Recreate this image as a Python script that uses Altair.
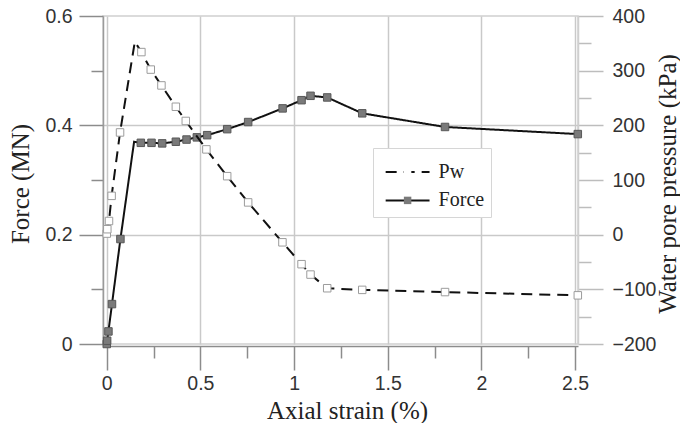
import altair as alt
import pandas as pd

# ---- data ----
force_strain = [0.0, 0.002, 0.009, 0.028, 0.073, 0.146, 0.182, 0.239, 0.296, 0.369, 0.426,
                0.481, 0.536, 0.643, 0.755, 0.939, 1.040, 1.088, 1.177, 1.364, 1.806, 2.515]
force_mn = [0.000, 0.006, 0.023, 0.073, 0.192, 0.370, 0.368, 0.368, 0.367, 0.370, 0.374,
            0.378, 0.382, 0.393, 0.406, 0.431, 0.446, 0.454, 0.451, 0.422, 0.397, 0.384]
force_marked = [True, True, True, True, True, False, True, True, True, True, True,
                True, True, True, True, True, True, True, True, True, True, True]

pw_strain = [0.0, 0.003, 0.012, 0.026, 0.071, 0.150, 0.185, 0.235, 0.292, 0.369, 0.422,
             0.532, 0.643, 0.755, 0.938, 1.040, 1.088, 1.177, 1.364, 1.806, 2.515]
pw_kpa = [2, 10, 25, 71, 187, 353, 334, 302, 273, 234, 208,
          156, 107, 59, -14, -54, -73, -98, -101, -105, -111]
pw_marked = [True, True, True, True, True, False, True, True, True, True, True,
             True, True, True, True, True, True, True, True, True, True]

series_order = ["Pw", "Force"]
x_ticks = [0, 0.25, 0.5, 0.75, 1, 1.25, 1.5, 1.75, 2, 2.25, 2.5]
force_ticks = [0, 0.1, 0.2, 0.3, 0.4, 0.5, 0.6]
pw_ticks = [-200, -150, -100, -50, 0, 50, 100, 150, 200, 250, 300, 350, 400]

force_df = pd.DataFrame({"strain": force_strain, "value": force_mn,
                         "Series": "Force", "Marker": "Force", "marked": force_marked})
pw_df = pd.DataFrame({"strain": pw_strain, "value": pw_kpa,
                      "Series": "Pw", "Marker": "Pw", "marked": pw_marked})

AX_GREY = "#8c8c8c"
GRID = "#c9c9c9"
LABEL_FONT = "Liberation Sans"
TITLE_FONT = "Liberation Serif"
TITLE_SIZE = 25

x_major = "datum.value % 0.5 === 0"
x_enc = alt.X(
    "strain:Q",
    scale=alt.Scale(domain=[-0.02, 2.516], nice=False, zero=False),
    axis=alt.Axis(
        values=x_ticks, offset=2,
        labelExpr=f"{x_major} ? format(datum.value, '~g') : ''",
        tickSize={"condition": {"test": x_major, "value": 24}, "value": 12},
        grid=True, gridColor=GRID, gridWidth=1.5,
        gridOpacity={"condition": {"test": x_major, "value": 1}, "value": 0},
        domainColor=AX_GREY, domainWidth=1.5, tickColor=AX_GREY, tickWidth=1.5,
        labelFont=LABEL_FONT, labelFontSize=19.5, labelColor="#333", labelPadding=4,
        labelFlush=False, labelOverlap=False,
        title="Axial strain (%)", titleFont=TITLE_FONT, titleFontSize=TITLE_SIZE,
        titleFontWeight="normal", titleColor="#222",
        titleX=244, titleY=72, titleBaseline="alphabetic", titleAlign="center",
    ),
)

f_major = "round(datum.value * 10) % 2 === 0"
force_y = alt.Y(
    "value:Q",
    scale=alt.Scale(domain=[0, 0.6], nice=False, zero=False),
    axis=alt.Axis(
        orient="left", values=force_ticks,
        labelExpr=f"{f_major} ? format(datum.value, '~g') : ''",
        tickSize={"condition": {"test": f_major, "value": 24}, "value": 12},
        grid=True, gridColor=GRID, gridWidth=1.5,
        gridOpacity={"condition": {"test": f"{f_major} && datum.value > 0.05 && datum.value < 0.55", "value": 1}, "value": 0},
        domainColor="#9a9a9a", domainWidth=1.5, tickColor=AX_GREY, tickWidth=1.5,
        labelFont=LABEL_FONT, labelFontSize=19.5, labelColor="#333", labelPadding=7,
        labelFlush=False, labelOverlap=False,
        title="Force (MN)", titleFont=TITLE_FONT, titleFontSize=TITLE_SIZE,
        titleFontWeight="normal", titleColor="#222", titleAngle=270,
        titleX=-75, titleY=167.5, titleBaseline="alphabetic", titleAlign="center",
    ),
)

p_major = "datum.value % 100 === 0"
pw_y = alt.Y(
    "value:Q",
    scale=alt.Scale(domain=[-200, 400], nice=False, zero=False),
    axis=alt.Axis(
        orient="right", values=pw_ticks,
        labelExpr=f"{p_major} ? format(datum.value, '~g') : ''",
        tickSize={"condition": {"test": p_major, "value": 25}, "value": 13},
        grid=False,
        domainColor="#cfcfcf", domainWidth=1.5, tickColor="#bdbdbd", tickWidth=1.5,
        labelFont=LABEL_FONT, labelFontSize=19.5, labelColor="#333", labelPadding=9,
        labelFlush=False, labelOverlap=False,
        title="Water pore pressure (kPa)", titleFont=TITLE_FONT, titleFontSize=TITLE_SIZE,
        titleFontWeight="normal", titleColor="#222", titleAngle=270,
        titleX=97, titleY=167.5, titleBaseline="alphabetic", titleAlign="center",
    ),
)

# legend: two overlaid legends (line symbols below, square symbols on top)
LEG_X, LEG_Y = 270, 132
LEG_SYM_SIZE = 77          # sqrt -> ~8.8 px layout box
LEG_COMMON = dict(
    orient="none", legendX=LEG_X, legendY=LEG_Y,
    title=" ", titleFontSize=8, titlePadding=0,
    padding=6, rowPadding=8.4, symbolSize=LEG_SYM_SIZE,
    symbolOffset=18.6, labelOffset=21,
    labelFont=TITLE_FONT, labelFontSize=20, labelColor="#222",
)
dash_enc = alt.StrokeDash(
    "Series:N",
    scale=alt.Scale(domain=series_order, range=[[11, 7], [1, 0]]),
    legend=alt.Legend(
        symbolType="M-5,0H5", symbolStrokeWidth=2, symbolStrokeColor="#111",
        symbolFillColor="transparent",
        fillColor="white", strokeColor="#d6d6d6", zindex=1, **LEG_COMMON,
    ),
)
fill_enc = alt.Fill(
    "Marker:N", sort=series_order,
    scale=alt.Scale(range=["#ffffff", "#7a7a7a"]),
    legend=alt.Legend(
        symbolType="M-0.85,-0.85H0.85V0.85H-0.85Z", symbolStrokeWidth=1,
        symbolOpacity=1, labelOpacity=0, zindex=2, **LEG_COMMON,
    ),
)
stroke_enc = alt.Stroke(
    "Marker:N", sort=series_order,
    scale=alt.Scale(range=["#9c9c9c", "#585858"]),
)


def series_layer(df, y_enc):
    base = alt.Chart(df)
    line = base.mark_line(color="#111", strokeWidth=2).encode(
        x=x_enc, y=y_enc, strokeDash=dash_enc)
    pts = base.mark_point(shape="square", filled=True, size=56, strokeWidth=1, opacity=1).encode(
        x=x_enc, y=y_enc, fill=fill_enc, stroke=stroke_enc
    ).transform_filter("datum.marked")
    return alt.layer(line, pts)


chart = alt.layer(
    series_layer(force_df, force_y),
    series_layer(pw_df, pw_y),
).resolve_scale(y="independent").properties(
    width=475, height=328,
    autosize=alt.AutoSizeParams(type="none"),
    padding={"left": 95, "top": 8, "right": 102, "bottom": 79},
    background="white",
).configure_view(stroke="#d0d0d0", strokeWidth=1.5)

chart.save("out.html", embed_options={"renderer": "svg", "actions": False})
